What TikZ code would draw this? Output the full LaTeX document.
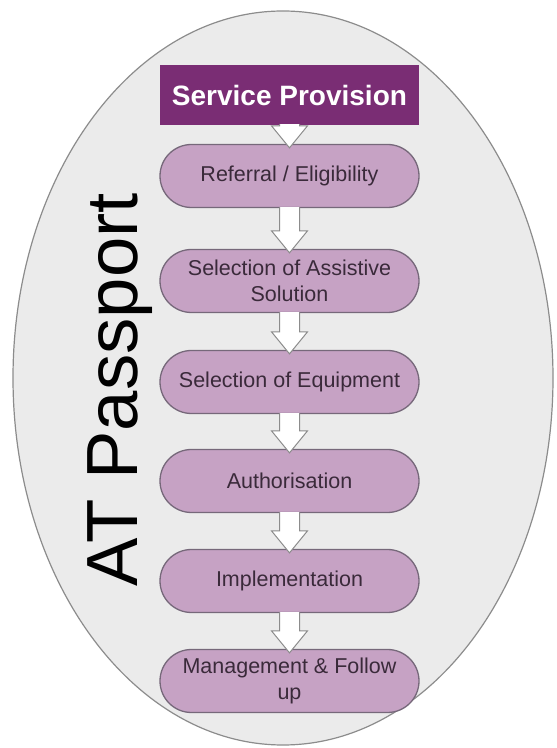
\documentclass[tikz,border=0pt]{standalone}
\usepackage{fontspec}
\setmainfont{Liberation Sans}
\usetikzlibrary{calc}

% colours
\definecolor{passportgrey}{HTML}{EBEBEB}
\definecolor{rimgrey}{HTML}{8C8C8C}
\definecolor{headpurple}{HTML}{7A2D74}
\definecolor{pillmauve}{HTML}{C6A2C4}
\definecolor{pillrim}{HTML}{76687A}
\definecolor{pilltext}{HTML}{3A2A3A}

\tikzset{
  header/.style={rectangle, fill=headpurple, text=white, minimum width=259pt,
    minimum height=60pt, inner sep=0pt, font=\fontsize{28}{32}\selectfont\bfseries},
  stage/.style={rounded rectangle, draw=pillrim, line width=1.3pt, fill=pillmauve,
    text=pilltext, minimum width=259pt, minimum height=63pt, inner sep=0pt,
    align=center, font=\fontsize{21.5}{26}\selectfont},
  blockarrow/.style={draw=rimgrey, fill=white, line width=1pt, line join=miter}
}

% white block arrow from the bottom of #1 into the top of #2
\newcommand{\flowarrow}[2]{%
  \draw[blockarrow] ($(#1.south)+(-10,1)$) -- ($(#2.north)+(-10,18)$)
    -- ($(#2.north)+(-18,18)$) -- ($(#2.north)+(0,-4)$)
    -- ($(#2.north)+(18,18)$) -- ($(#2.north)+(10,18)$)
    -- ($(#1.south)+(10,1)$);}

\usetikzlibrary{shapes.misc}

\begin{document}
\begin{tikzpicture}[x=1pt,y=1pt]
    \useasboundingbox (0,0) rectangle (557,748);
    \fill[white] (0,0) rectangle (557,748);

    % Draw passport ellipse
    \filldraw[fill=passportgrey, draw=rimgrey, line width=1.2pt] (283,370) ellipse (270 and 367);

    % Vertical title
    \node[rotate=90, anchor=base, inner sep=0pt, font=\fontsize{72.5}{80}\selectfont] (title) at (137,358) {AT Passport};

    % Stages
    \node[header] (provision) at (289.5,653) {Service Provision};
    \node[stage] (referral) at (289.5,572) {Referral / Eligibility};
    \node[stage] (solution) at (289.5,467) {Selection of Assistive\\Solution};
    \node[stage] (equipment) at (289.5,366) {Selection of Equipment};
    \node[stage] (authorisation) at (289.5,267) {Authorisation};
    \node[stage] (implementation) at (289.5,167) {Implementation};
    \node[stage] (management) at (289.5,67) {Management \& Follow\\up};

    % Arrows between stages
    \flowarrow{provision}{referral}
    \flowarrow{referral}{solution}
    \flowarrow{solution}{equipment}
    \flowarrow{equipment}{authorisation}
    \flowarrow{authorisation}{implementation}
    \flowarrow{implementation}{management}
\end{tikzpicture}
\end{document}
